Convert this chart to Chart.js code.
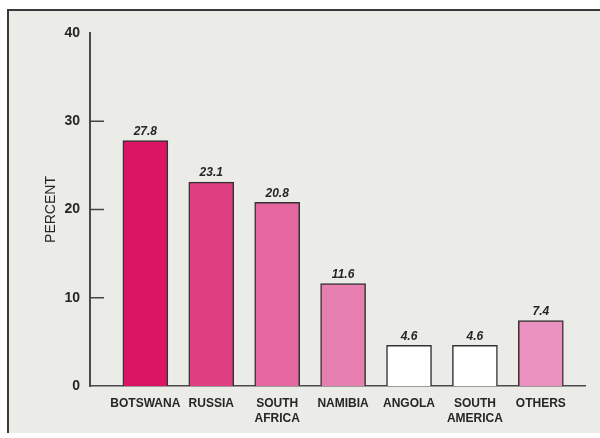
<!DOCTYPE html>
<html>
<head>
<meta charset="utf-8">
<script src="https://cdn.jsdelivr.net/npm/chart.js@4.4.1/dist/chart.umd.min.js"></script>
<style>
  html, body { margin: 0; padding: 0; background: #ffffff; }
  #wrap { width: 600px; height: 438px; }
</style>
</head>
<body>
<div id="wrap"><canvas id="diamonds" width="600" height="438"></canvas></div>
<script>
/* --------------- Data --------------------- */
const countries = ["BOTSWANA", "RUSSIA", ["SOUTH", "AFRICA"], "NAMIBIA", "ANGOLA", ["SOUTH", "AMERICA"], "OTHERS"];
const shares = [27.8, 23.1, 20.8, 11.6, 4.6, 4.6, 7.4];
const yTicks = [0, 10, 20, 30, 40];
const barColors = ["#dc1464", "#df3f80", "#e5679f", "#e77fb0", "#ffffff", "#ffffff", "#eb91bf"];

const ink = "#262626";

/* --------------- Paper, frame, tick stubs, value labels --------------------- */
const printLook = {
  id: "printLook",
  beforeDraw(chart) {
    const ctx = chart.ctx;
    ctx.save();
    ctx.fillStyle = "#ffffff";
    ctx.fillRect(0, 0, chart.width, chart.height);
    ctx.fillStyle = "#ebebe8";
    ctx.fillRect(8, 10, chart.width - 8, 423);
    ctx.strokeStyle = "#3a3a3a";
    ctx.lineWidth = 2;
    ctx.beginPath();
    ctx.moveTo(8, 433);
    ctx.lineTo(8, 10);
    ctx.lineTo(chart.width, 10);
    ctx.stroke();
    ctx.restore();
  },
  afterDatasetsDraw(chart) {
    const ctx = chart.ctx;
    const y = chart.scales.y;
    ctx.save();
    // short ticks pointing into the plot
    ctx.strokeStyle = "#444";
    ctx.lineWidth = 1.5;
    [10, 20, 30].forEach(v => {
      const py = y.getPixelForValue(v);
      ctx.beginPath();
      ctx.moveTo(chart.chartArea.left, py);
      ctx.lineTo(chart.chartArea.left + 14, py);
      ctx.stroke();
    });
    // value above each bar
    ctx.fillStyle = ink;
    ctx.font = "italic bold 12px 'Liberation Sans', Arial, sans-serif";
    ctx.textAlign = "center";
    ctx.textBaseline = "middle";
    chart.getDatasetMeta(0).data.forEach((bar, i) => {
      ctx.fillText(shares[i].toFixed(1), bar.x, bar.y - 9);
    });
    ctx.restore();
  }
};

/* --------------- Chart --------------------- */
new Chart(document.getElementById("diamonds"), {
  type: "bar",
  plugins: [printLook],
  data: {
    datasets: [{
      data: shares.map((v, i) => ({ x: i, y: v })),
      backgroundColor: barColors,
      borderColor: "#333333",
      borderWidth: 1.5,
      barThickness: 45,
    }],
  },
  options: {
    responsive: false,
    animation: false,
    layout: { padding: { left: 0, right: 15, top: 33, bottom: 0 } },
    plugins: {
      legend: { display: false },
      tooltip: { enabled: false },
    },
    scales: {
      x: {
        type: "linear",
        offset: false,
        min: -0.84,
        max: 6.67,
        grid: { display: false, drawTicks: false, offset: false },
        border: { display: true, color: "#4a4a4a", width: 1.5 },
        afterBuildTicks: (scale) => { scale.ticks = countries.map((_, i) => ({ value: i })); },
        afterFit: (scale) => { scale.height = 52; },
        ticks: {
          padding: 10,
          color: ink,
          maxRotation: 0,
          autoSkip: false,
          font: { family: "'Liberation Sans', Arial, sans-serif", size: 12, weight: "bold", lineHeight: 1.25 },
          callback: (v) => countries[v],
        },
      },
      y: {
        min: 0,
        max: 40,
        grid: { display: false, drawTicks: false },
        border: { display: true, color: "#4a4a4a", width: 2 },
        afterBuildTicks: (scale) => { scale.ticks = yTicks.map(v => ({ value: v })); },
        afterFit: (scale) => { scale.width = 90; },
        ticks: {
          padding: 10,
          color: ink,
          font: { family: "'Liberation Sans', Arial, sans-serif", size: 14, weight: "bold" },
        },
        title: {
          display: true,
          text: "PERCENT",
          color: ink,
          padding: { top: 43, bottom: 0 },
          font: { family: "'Liberation Sans', Arial, sans-serif", size: 14 },
        },
      },
    },
  },
});
</script>
</body>
</html>
